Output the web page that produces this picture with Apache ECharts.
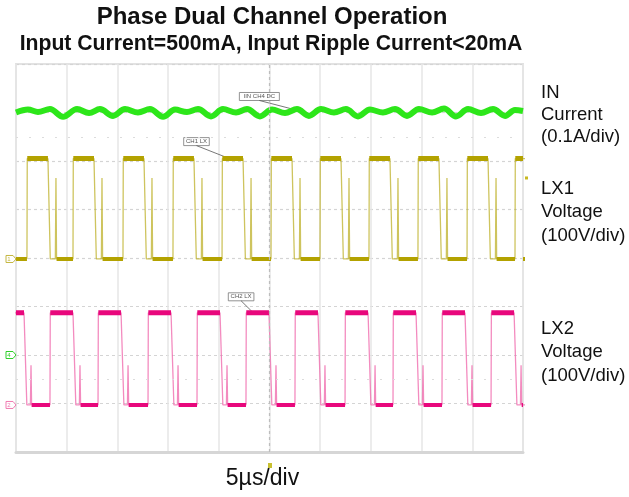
<!DOCTYPE html>
<html><head><meta charset="utf-8">
<script src="https://cdn.jsdelivr.net/npm/echarts@6/dist/echarts.min.js"></script>
<style>html,body{margin:0;padding:0;background:#fff}#c{width:629px;height:497px}</style>
</head><body><div id="c"></div>
<script>
// ---- axis settings (time in µs, vertical in screen divisions) ----
const xRange = [0, 50];      // 10 divisions x 5 µs
const xStep = 5;
const yRange = [0, 8];       // 8 vertical divisions
const yStep = 1;

// ---- LX1 (yellow) : rising edge times (µs), levels [low, high, spike] (div), timing offsets [highEnd, fallEnd, spikeStart, spikePeak, spikeEnd]
const lx1Rise = [1.08, 5.62, 10.55, 15.48, 20.32, 25.15, 29.98, 34.81, 39.64, 44.48, 49.21];
const lx1Level = [3.98, 6.05, 5.65];
const lx1Timing = [2.07, 2.3, 2.8, 2.86, 2.92];

// ---- LX2 (pink)
const lx2Rise = [-1.48, 3.35, 8.09, 13.02, 17.85, 22.68, 27.51, 32.45, 37.18, 42.01, 46.85];
const lx2Level = [0.97, 2.87, 1.79];
const lx2Timing = [2.27, 2.55, 2.9, 2.96, 3.02];

// ---- IN current (green): time (µs) and level (div)
const inT = [0, 1.18, 2.17, 3.35, 4.64, 6.02, 7.20, 8.28, 9.57, 10.75, 12.03, 13.21, 14.50, 15.68, 16.86, 17.95, 19.23, 20.41, 21.70, 22.78, 24.06, 25.25, 26.53, 27.71, 28.89, 30.08, 31.36, 32.54, 33.73, 34.91, 36.19, 37.38, 38.56, 39.74, 41.03, 42.21, 43.39, 44.58, 45.86, 47.04, 48.23, 49.21, 50];
const inV = [7.00, 7.06, 7.01, 7.07, 6.91, 7.07, 6.99, 7.07, 6.93, 7.07, 7.00, 7.07, 6.91, 7.06, 7.01, 7.07, 6.92, 7.07, 7.00, 7.07, 6.92, 7.06, 6.99, 7.07, 6.93, 7.07, 7.00, 7.07, 6.92, 7.06, 7.00, 7.07, 6.93, 7.07, 7.00, 7.08, 6.92, 7.07, 6.99, 7.07, 6.93, 7.05, 7.03];

// ---- text
const titleText = 'Phase Dual Channel Operation';
const subtitleText = 'Input Current=500mA, Input Ripple Current<20mA';
const xUnitText = '5µs/div';
const inLabel = ['IN', 'Current', '(0.1A/div)'];
const lx1Label = ['LX1', 'Voltage', '(100V/div)'];
const lx2Label = ['LX2', 'Voltage', '(100V/div)'];
const tagTexts = ['IIN CH4 DC', 'CH1 LX', 'CH2 LX'];

function wave(rises, lv, tm) {
  const low = lv[0], high = lv[1], spike = lv[2];
  const thin = [], top = [], bottom = [];
  let lowStart = xRange[0];
  rises.forEach(r => {
    if (lowStart < r) bottom.push([lowStart, low], [r, low], [r, '-']);
    thin.push([r, low], [r + 0.03, high], [r + tm[0], high], [r + tm[1], low],
              [r + tm[2], low], [r + tm[3], spike], [r + tm[4], low]);
    top.push([Math.max(r + 0.03, xRange[0]), high], [Math.min(r + tm[0], xRange[1]), high], [r + tm[0], '-']);
    lowStart = r + tm[4];
  });
  bottom.push([lowStart, low], [xRange[1], low]);
  thin.push([xRange[1] + 1, low]);
  return { thin, top, bottom };
}

const w1 = wave(lx1Rise, lx1Level, lx1Timing);
const w2 = wave(lx2Rise, lx2Level, lx2Timing);
const inData = inT.map((t, i) => [t, inV[i]]);

const chart = echarts.init(document.getElementById('c'), null, { renderer: 'canvas' });
const FONT = '"Liberation Sans", Arial, sans-serif';

const line = (data, color, width, extra) => Object.assign({
  type: 'line', data, showSymbol: false, symbol: 'none', connectNulls: false,
  lineStyle: { color, width, cap: 'butt' }, animation: false, silent: true, clip: true
}, extra || {});

chart.setOption({
  animation: false,
  grid: { left: 16, top: 64, width: 507, height: 388, show: true, borderColor: '#e2e2e2', borderWidth: 2, backgroundColor: '#fff' },
  xAxis: {
    type: 'value', min: xRange[0], max: xRange[1], interval: xStep,
    axisLine: { show: true, onZero: false, lineStyle: { color: '#d6d6d6', width: 3 } },
    axisTick: { show: false }, axisLabel: { show: false },
    splitLine: { show: true, lineStyle: { color: '#e6e6e6', width: 1.5 } }
  },
  yAxis: {
    type: 'value', min: yRange[0], max: yRange[1], interval: yStep,
    axisLine: { show: false }, axisTick: { show: false }, axisLabel: { show: false },
    splitLine: { show: true, lineStyle: { color: '#d4d4d4', width: 1.2, type: [3, 3] } }
  },
  series: [
    line([], '#000', 0, {
      markLine: {
        silent: true, symbol: 'none', label: { show: false }, animation: false,
        data: [
          { xAxis: 25, lineStyle: { color: '#bdbdbd', width: 1.2, type: [3, 3] } },
          { yAxis: 6.5, lineStyle: { color: '#dcdcdc', width: 1.2, type: [2, 11] } },
          { yAxis: 1.5, lineStyle: { color: '#dcdcdc', width: 1.2, type: [2, 11] } }
        ]
      }
    }),
    line(w1.thin, 'rgba(190,176,40,0.75)', 1.3),
    line(w1.top, '#b3a200', 5),
    line(w1.bottom, '#b3a200', 4),
    line(w2.thin, 'rgba(240,110,175,0.8)', 1.3),
    line(w2.top, '#e8077c', 5),
    line(w2.bottom, '#e8077c', 4),
    line(inData, '#2de61a', 6, { smooth: 0.35 })
  ]
});

const px = p => chart.convertToPixel({ gridIndex: 0 }, p);
const g = [];
const text = (x, y, s, size, weight, align) => ({
  type: 'text', x, y, silent: true,
  style: { text: s, font: (weight || 'normal') + ' ' + size + 'px ' + FONT, fill: '#111', align: align || 'left', verticalAlign: 'middle' }
});
g.push(text(272, 17, titleText, 24, 'bold', 'center'));
g.push(text(271, 44, subtitleText, 21.2, 'bold', 'center'));
const xc = px([25, 0]);
g.push(text(xc[0] - 7, 479, xUnitText, 23, 'normal', 'center'));
[[inLabel, [93, 115, 137]], [lx1Label, [189, 212, 236]], [lx2Label, [329, 352, 376]]].forEach(([labs, ys]) => {
  labs.forEach((s, i) => g.push(text(541, ys[i], s, 18.5, 'normal', 'left')));
});
// trigger marker below center
g.push({ type: 'rect', silent: true, shape: { x: xc[0] - 1.5, y: xc[1] + 11, width: 4, height: 5 }, style: { fill: '#c8c030' } });
// trigger level marker at right
const tl = px([xRange[1], 5.65]);
g.push({ type: 'rect', silent: true, shape: { x: tl[0] + 2, y: tl[1] - 1.5, width: 3, height: 3 }, style: { fill: '#c8b820' } });
// channel ground markers on left
[[lx1Level[0], '#c4b640', '1'], [2, '#2fd02a', '4'], [lx2Level[0], '#f07ab0', '2']].forEach(([v, c, s]) => {
  const p = px([0, v]);
  g.push({ type: 'polygon', silent: true, shape: { points: [[p[0] - 10, p[1] - 3.5], [p[0] - 3, p[1] - 3.5], [p[0], p[1]], [p[0] - 3, p[1] + 3.5], [p[0] - 10, p[1] + 3.5]] }, style: { fill: 'none', stroke: c, lineWidth: 1 } });
  g.push({ type: 'text', silent: true, x: p[0] - 7, y: p[1], style: { text: s, font: '6px ' + FONT, fill: c, align: 'center', verticalAlign: 'middle' } });
});
// small measurement tags with leader lines
[[tagTexts[0], [24.0, 7.33], [29.5, 6.95]], [tagTexts[1], [17.8, 6.4], [20.8, 6.07]], [tagTexts[2], [22.2, 3.2], [23.4, 2.87]]].forEach(([s, a, b]) => {
  const p = px(a), q = px(b);
  const w = s.length * 3.6 + 4;
  g.push({ type: 'rect', silent: true, shape: { x: p[0] - w / 2, y: p[1] - 4, width: w, height: 8 }, style: { fill: '#fff', stroke: '#777', lineWidth: 0.8 } });
  g.push({ type: 'text', silent: true, x: p[0], y: p[1], style: { text: s, font: '6px ' + FONT, fill: '#555', align: 'center', verticalAlign: 'middle' } });
  g.push({ type: 'line', silent: true, shape: { x1: p[0], y1: p[1] + 4, x2: q[0], y2: q[1] }, style: { stroke: '#555', lineWidth: 0.8 } });
});
chart.setOption({ graphic: { elements: g } });
</script>
</body></html>
